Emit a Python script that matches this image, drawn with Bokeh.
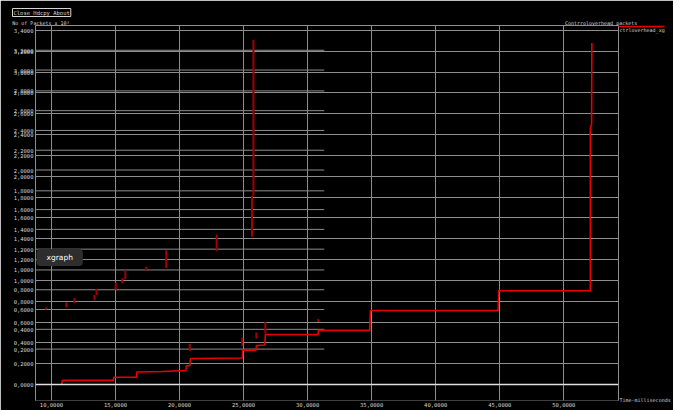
from bokeh.plotting import figure
from bokeh.models import Range1d, FixedTicker, LinearAxis, Label, Span, ColumnDataSource, Title
from bokeh.embed import file_html
from bokeh.resources import INLINE

# ---------------- data ----------------
x_ticks = [10, 15, 20, 25, 30, 35, 40, 45, 50]
x_tick_labels = ["10,0000", "15,0000", "20,0000", "25,0000", "30,0000",
                 "35,0000", "40,0000", "45,0000", "50,0000"]

y_ticks = [0, 0.2, 0.4, 0.6, 0.8, 1, 1.2, 1.4, 1.6, 1.8, 2, 2.2, 2.4, 2.6, 2.8, 3, 3.2, 3.4]
y_tick_labels = ["0,0000", "0,2000", "0,4000", "0,6000", "0,8000", "1,0000", "1,2000",
                 "1,4000", "1,6000", "1,8000", "2,0000", "2,2000", "2,4000", "2,6000",
                 "2,8000", "3,0000", "3,2000", "3,4000"]

# second (ghost) set of grid lines / labels visible in the screenshot
ghost_ticks = [3.21, 3.02, 2.82, 2.63, 2.44, 2.25, 2.06, 1.86, 1.68, 1.49,
               1.30, 1.10, 0.91, 0.72, 0.53, 0.34]
ghost_tick_labels = ["3,2000", "3,0000", "2,8000", "2,6000", "2,4000", "2,2000",
                     "2,0000", "1,8000", "1,6000", "1,4000", "1,2000", "1,0000",
                     "0,8000", "0,6000", "0,4000", "0,2000"]
ghost_grid_end = 31.3

# window texts
title_text = "Contrroloverhead packets"
y_title_text = "No of Packets x 10³"
x_title_text = "Time-milliseconds"
buttons_text = "Close Hdcpy About"
series_name = "ctrloverhead_xg"
popup_text = "xgraph"

# main series: ctrloverhead_xg
main_x = [10.80, 10.85, 14.84, 14.86, 16.65, 16.67, 18.60, 20.50, 20.54, 20.80,
          20.85, 24.90, 24.93, 25.97, 26.00, 26.67, 26.70, 30.80, 30.85, 34.85,
          34.90, 44.87, 44.92, 52.07, 52.07, 52.17, 52.19]
main_y = [0.00, 0.04, 0.04, 0.07, 0.07, 0.12, 0.125, 0.135, 0.18, 0.18,
          0.25, 0.255, 0.33, 0.33, 0.375, 0.38, 0.48, 0.48, 0.52, 0.52,
          0.71, 0.71, 0.90, 0.90, 2.46, 2.50, 3.28]

# ghost marks (short dark-red vertical strokes)
ghost_x = [9.59, 11.17, 11.80, 13.36, 13.52, 15.02, 15.54, 15.77, 17.40, 18.96,
           22.90, 25.66, 25.77, 20.80, 24.90, 26.00, 26.70, 30.84]
ghost_y0 = [0.72, 0.74, 0.78, 0.81, 0.86, 0.91, 0.97, 1.01, 1.10, 1.12,
            1.28, 1.42, 1.81, 0.32, 0.37, 0.44, 0.49, 0.60]
ghost_y1 = [0.74, 0.79, 0.83, 0.86, 0.92, 0.98, 1.02, 1.10, 1.13, 1.29,
            1.44, 1.81, 3.31, 0.39, 0.45, 0.50, 0.60, 0.63]

# ---------------- styling ----------------
FONT = "DejaVu Sans Mono"
TXT = "#d4d4d4"
GRID = "#8e8e8e"
RED = "#e80000"

x0, x1 = 8.757, 54.27
y0, y1 = -0.1537, 3.448
p = figure(width=673, height=410, output_backend="svg", toolbar_location=None,
           x_range=Range1d(x0, x1), y_range=Range1d(y0, y1),
           min_border_left=35, min_border_right=52, min_border_top=25, min_border_bottom=10,
           background_fill_color="black", border_fill_color="black",
           outline_line_color=None)

def style_axis(ax, size="5.5px", standoff=2):
    ax.major_tick_line_color = None
    ax.minor_tick_line_color = None
    ax.major_tick_out = 0
    ax.major_tick_in = 0
    ax.minor_tick_out = 0
    ax.minor_tick_in = 0
    ax.major_label_text_font = FONT
    ax.major_label_text_font_size = size
    ax.major_label_text_color = TXT
    ax.major_label_standoff = standoff

# bottom / left axes
p.xaxis.ticker = FixedTicker(ticks=x_ticks)
p.xaxis.major_label_overrides = dict(zip(x_ticks, x_tick_labels))
style_axis(p.xaxis[0], standoff=1)
p.xaxis.axis_line_color = None
p.yaxis.ticker = FixedTicker(ticks=y_ticks + ghost_ticks)
p.yaxis.major_label_overrides = dict(zip(y_ticks + ghost_ticks, y_tick_labels + ghost_tick_labels))
style_axis(p.yaxis[0], standoff=2)
p.yaxis.axis_line_color = GRID

# top axis carries the two header texts
top_pos = [9.18, 52.91]
top_ax = LinearAxis(ticker=FixedTicker(ticks=top_pos),
                    major_label_overrides=dict(zip(top_pos, [y_title_text, title_text])),
                    axis_line_color=GRID)
style_axis(top_ax, size="5px", standoff=0)
p.add_layout(top_ax, "above")

# right axis carries the legend entry and the x-axis title
right_pos = [3.4, -0.15]
right_ax = LinearAxis(ticker=FixedTicker(ticks=right_pos, minor_ticks=[3.44]),
                      major_label_overrides=dict(zip(right_pos, [series_name, x_title_text])),
                      axis_line_color=GRID)
style_axis(right_ax, size="5px", standoff=-45)
right_ax.minor_tick_line_color = RED
right_ax.minor_tick_line_width = 1.5
right_ax.minor_tick_in = 0
right_ax.minor_tick_out = 46
p.add_layout(right_ax, "right")

# buttons row
p.add_layout(Title(text=buttons_text, align="left", offset=-23, standoff=0,
                   text_font=FONT, text_font_size="5.5px", text_font_style="normal",
                   text_color=TXT, border_line_color=TXT, padding=1), "above")

# grids
p.xgrid.ticker = FixedTicker(ticks=x_ticks)
p.ygrid.ticker = FixedTicker(ticks=y_ticks)
for g in (p.xgrid[0], p.ygrid[0]):
    g.grid_line_color = GRID
    g.grid_line_width = 1

p.add_layout(Span(location=y_ticks[0], dimension="width", line_color="#e0e0e0", line_width=1.4))

# ghost grid lines
gsrc = ColumnDataSource(dict(y=ghost_ticks, xs=[x0] * len(ghost_ticks),
                             xe=[ghost_grid_end] * len(ghost_ticks)))
p.segment(x0="xs", y0="y", x1="xe", y1="y", source=gsrc, line_color=GRID, line_width=1)

# ghost marks
msrc = ColumnDataSource(dict(x=ghost_x, y0=ghost_y0, y1=ghost_y1))
p.segment(x0="x", y0="y0", x1="x", y1="y1", source=msrc, line_color="#a40000", line_width=2)

# main line
p.line(main_x, main_y, line_color=RED, line_width=1.6)

# "xgraph" popup
p.add_layout(Label(x=x0, y=1.22, text=popup_text, x_offset=1,
                   text_font="DejaVu Sans", text_font_size="7.5px", text_color="white",
                   text_align="left", text_baseline="middle",
                   background_fill_color="#2e2e2e", background_fill_alpha=1,
                   border_radius=4, padding=(10, 4)))

open("out.html", "w").write(file_html(p, INLINE))
